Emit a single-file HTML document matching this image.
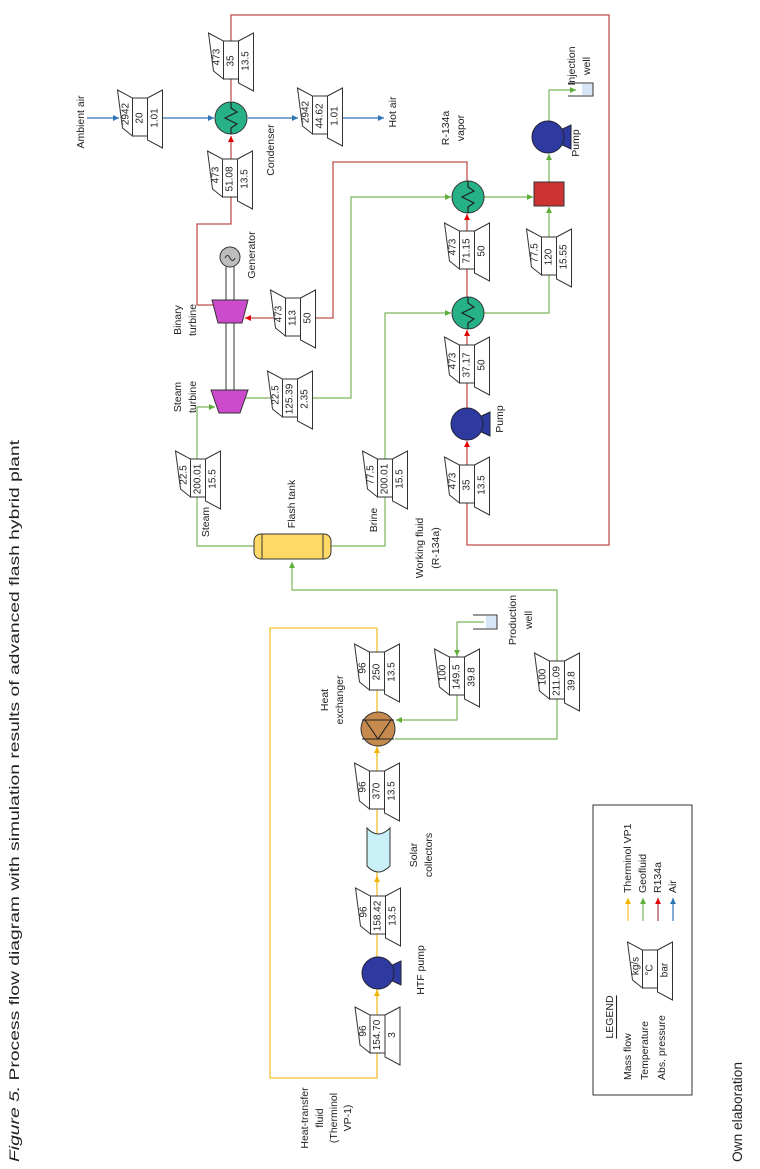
<!DOCTYPE html>
<html><head><meta charset="utf-8"><style>
html,body{margin:0;padding:0;background:#fff;}
svg{display:block;font-family:"Liberation Sans",sans-serif;}
text{dominant-baseline:central;text-anchor:middle;fill:#222;}
.lb{font-size:10.5px;}
.bn{font-size:10px;}
</style></head><body>
<svg width="760" height="1169" viewBox="0 0 760 1169" xmlns="http://www.w3.org/2000/svg">
<defs>
<marker id="ay" markerWidth="6" markerHeight="6" refX="6" refY="3" orient="auto" markerUnits="userSpaceOnUse"><path d="M0,0L6,3L0,6z" fill="#f0b400"/></marker>
<marker id="ag" markerWidth="6" markerHeight="6" refX="6" refY="3" orient="auto" markerUnits="userSpaceOnUse"><path d="M0,0L6,3L0,6z" fill="#5fae3a"/></marker>
<marker id="ar" markerWidth="6" markerHeight="6" refX="6" refY="3" orient="auto" markerUnits="userSpaceOnUse"><path d="M0,0L6,3L0,6z" fill="#e00000"/></marker>
<marker id="ab" markerWidth="6" markerHeight="6" refX="6" refY="3" orient="auto" markerUnits="userSpaceOnUse"><path d="M0,0L6,3L0,6z" fill="#2e75b6"/></marker>
<g id="blk" fill="#fff" stroke="#333" stroke-width="1">
<polygon points="-22.5,-28 -7.5,-20 -7.5,18 -17.5,10"/>
<polygon points="7.5,-20 22.5,-28 22.5,30 7.5,22"/>
<rect x="-7.5" y="-20" width="15" height="38"/>
</g>
<g id="hx"><circle r="16" fill="#26b286" stroke="#333"/><polyline points="0,-16 0,-10 6,-6 -6,0 6,6 0,10 0,16" fill="none" stroke="#222" stroke-width="1.2"/></g>
<g id="pump"><polygon points="8,-5 23,-12 23,12 8,5" fill="#2e3a9f" stroke="#223"/><circle r="16" fill="#2e3a9f" stroke="#223"/></g>
</defs>

<text transform="translate(14,1162) rotate(-90)" style="text-anchor:start;font-size:14px" textLength="722" lengthAdjust="spacingAndGlyphs"><tspan font-style="italic">Figure 5.</tspan> Process flow diagram with simulation results of advanced flash hybrid plant</text>
<text transform="translate(737,1162) rotate(-90)" style="text-anchor:start;font-size:14px" textLength="100" lengthAdjust="spacingAndGlyphs">Own elaboration</text>

<g fill="none" stroke="#f2c12e" stroke-width="1.3">
<polyline points="377,628 270,628 270,1078 377,1078 377,628"/>
</g>
<g stroke="#f2c12e" stroke-width="1.3">
<line x1="377" y1="1000" x2="377" y2="990" marker-end="url(#ay)"/>
<line x1="377" y1="886" x2="377" y2="876" marker-end="url(#ay)"/>
<line x1="377" y1="757" x2="377" y2="747" marker-end="url(#ay)"/>
</g>

<g fill="none" stroke="#7cb45a" stroke-width="1.2">
<polyline points="484,622 457,622 457,720 396,720" marker-end="url(#ag)"/>
<line x1="457" y1="640" x2="457" y2="656" marker-end="url(#ag)"/>
<polyline points="395,739 557,739 557,590 292,590 292,562" marker-end="url(#ag)"/>
<polyline points="254,546 197,546 197,407 215,407" marker-end="url(#ag)"/>
<polyline points="240,398 351,398 351,197 451,197" marker-end="url(#ag)"/>
<polyline points="331,546 385,546 385,313 451,313" marker-end="url(#ag)"/>
<line x1="484" y1="197" x2="533" y2="197" marker-end="url(#ag)"/>
<polyline points="484,313 549,313 549,207" marker-end="url(#ag)"/>
<line x1="549" y1="182" x2="549" y2="154" marker-end="url(#ag)"/>
<polyline points="549,121 549,90 576,90" marker-end="url(#ag)"/>
</g>

<g fill="none" stroke="#c0504d" stroke-width="1.3">
<polyline points="231,101 231,15 609,15 609,545 467,545 467,441" marker-end="url(#ar)"/>
<polyline points="467,408 467,330" marker-end="url(#ar)"/>
<polyline points="467,297 467,214" marker-end="url(#ar)"/>
<polyline points="467,181 467,162 333,162 333,318 245,318" marker-end="url(#ar)"/>
<polyline points="213,305 197,305 197,224 231,224 231,136" marker-end="url(#ar)"/>
</g>

<g fill="none" stroke="#2e75b6" stroke-width="1.2">
<line x1="87" y1="118" x2="119" y2="118" marker-end="url(#ab)"/>
<line x1="162" y1="118" x2="214" y2="118" marker-end="url(#ab)"/>
<line x1="248" y1="118" x2="298" y2="118" marker-end="url(#ab)"/>
<line x1="342" y1="118" x2="384" y2="118" marker-end="url(#ab)"/>
</g>

<use href="#hx" x="231" y="118"/>
<use href="#hx" x="468" y="197"/>
<use href="#hx" x="468" y="313"/>
<use href="#pump" x="378" y="973"/>
<use href="#pump" x="467" y="424"/>
<use href="#pump" x="548" y="137"/>
<g transform="translate(378,729)">
<circle r="17" fill="#c68a4e" stroke="#333"/>
<path d="M-16,-9H16M-16,10H16M-13,-9L0,10L13,-9" fill="none" stroke="#222" stroke-width="1.1"/>
</g>
<path d="M367,828 Q378,840 390,828 V866 Q378,878 367,866 Z" fill="#c8f0f6" stroke="#333"/>
<rect x="254" y="534" width="77" height="25" rx="7" fill="#ffd966" stroke="#333"/>
<path d="M262,534V559M323,534V559" stroke="#333"/>
<rect x="226" y="266" width="8" height="126" fill="#fff" stroke="#333"/>
<circle cx="230" cy="257" r="10" fill="#bdbdbd" stroke="#333"/>
<path d="M225,258 q2.5,-5 5,0 t5,0" fill="none" stroke="#333"/>
<polygon points="212,300 248,300 242,323 218,323" fill="#cc4acc" stroke="#333"/>
<polygon points="211,390 248,390 240,413 219,413" fill="#cc4acc" stroke="#333"/>
<rect x="534" y="182" width="30" height="24" fill="#cc3333" stroke="#333"/>
<rect x="486" y="616" width="11" height="12" fill="#d6e6f7"/>
<path d="M473,615H497V629H473" fill="none" stroke="#333"/>
<rect x="582" y="84" width="11" height="11" fill="#d6e6f7"/>
<path d="M568,83H593V96H568" fill="none" stroke="#333"/>

<g class="bn">
<g transform="translate(377.5,1035)"><use href="#blk"/><text transform="translate(-14,-4) rotate(-90)">96</text><text transform="rotate(-90)">154.70</text><text transform="translate(15,0) rotate(-90)">3</text></g>
<g transform="translate(378,916)"><use href="#blk"/><text transform="translate(-14,-4) rotate(-90)">96</text><text transform="rotate(-90)">158.42</text><text transform="translate(15,0) rotate(-90)">13.5</text></g>
<g transform="translate(377,791)"><use href="#blk"/><text transform="translate(-14,-4) rotate(-90)">96</text><text transform="rotate(-90)">370</text><text transform="translate(15,0) rotate(-90)">13.5</text></g>
<g transform="translate(377,672)"><use href="#blk"/><text transform="translate(-14,-4) rotate(-90)">96</text><text transform="rotate(-90)">250</text><text transform="translate(15,0) rotate(-90)">13.5</text></g>
<g transform="translate(457,677)"><use href="#blk"/><text transform="translate(-14,-4) rotate(-90)">100</text><text transform="rotate(-90)">149.5</text><text transform="translate(15,0) rotate(-90)">39.8</text></g>
<g transform="translate(557,681)"><use href="#blk"/><text transform="translate(-14,-4) rotate(-90)">100</text><text transform="rotate(-90)">211.09</text><text transform="translate(15,0) rotate(-90)">39.8</text></g>
<g transform="translate(140,118)"><use href="#blk"/><text transform="translate(-14,-4) rotate(-90)">2942</text><text transform="rotate(-90)">20</text><text transform="translate(15,0) rotate(-90)">1.01</text></g>
<g transform="translate(231,61)"><use href="#blk"/><text transform="translate(-14,-4) rotate(-90)">473</text><text transform="rotate(-90)">35</text><text transform="translate(15,0) rotate(-90)">13.5</text></g>
<g transform="translate(320,116)"><use href="#blk"/><text transform="translate(-14,-4) rotate(-90)">2942</text><text transform="rotate(-90)">44.62</text><text transform="translate(15,0) rotate(-90)">1.01</text></g>
<g transform="translate(230,179)"><use href="#blk"/><text transform="translate(-14,-4) rotate(-90)">473</text><text transform="rotate(-90)">51.08</text><text transform="translate(15,0) rotate(-90)">13.5</text></g>
<g transform="translate(293,318)"><use href="#blk"/><text transform="translate(-14,-4) rotate(-90)">473</text><text transform="rotate(-90)">113</text><text transform="translate(15,0) rotate(-90)">50</text></g>
<g transform="translate(290,399)"><use href="#blk"/><text transform="translate(-14,-4) rotate(-90)">22.5</text><text transform="rotate(-90)">125.39</text><text transform="translate(15,0) rotate(-90)">2.35</text></g>
<g transform="translate(198,479)"><use href="#blk"/><text transform="translate(-14,-4) rotate(-90)">22.5</text><text transform="rotate(-90)">200.01</text><text transform="translate(15,0) rotate(-90)">15.5</text></g>
<g transform="translate(385,479)"><use href="#blk"/><text transform="translate(-14,-4) rotate(-90)">77.5</text><text transform="rotate(-90)">200.01</text><text transform="translate(15,0) rotate(-90)">15.5</text></g>
<g transform="translate(467,251)"><use href="#blk"/><text transform="translate(-14,-4) rotate(-90)">473</text><text transform="rotate(-90)">71.15</text><text transform="translate(15,0) rotate(-90)">50</text></g>
<g transform="translate(467,365)"><use href="#blk"/><text transform="translate(-14,-4) rotate(-90)">473</text><text transform="rotate(-90)">37.17</text><text transform="translate(15,0) rotate(-90)">50</text></g>
<g transform="translate(549,257)"><use href="#blk"/><text transform="translate(-14,-4) rotate(-90)">77.5</text><text transform="rotate(-90)">120</text><text transform="translate(15,0) rotate(-90)">15.55</text></g>
<g transform="translate(467,485)"><use href="#blk"/><text transform="translate(-14,-4) rotate(-90)">473</text><text transform="rotate(-90)">35</text><text transform="translate(15,0) rotate(-90)">13.5</text></g>
</g>

<g class="lb">
<text transform="translate(81,122) rotate(-90)">Ambient air</text>
<text transform="translate(393,112) rotate(-90)">Hot air</text>
<text transform="translate(271,150) rotate(-90)">Condenser</text>
<text transform="translate(252,255) rotate(-90)">Generator</text>
<text transform="translate(178,320) rotate(-90)">Binary</text>
<text transform="translate(193,320) rotate(-90)">turbine</text>
<text transform="translate(178,397) rotate(-90)">Steam</text>
<text transform="translate(193,397) rotate(-90)">turbine</text>
<text transform="translate(446,128) rotate(-90)">R-134a</text>
<text transform="translate(461,128) rotate(-90)">vapor</text>
<text transform="translate(576,143) rotate(-90)">Pump</text>
<text transform="translate(572,66) rotate(-90)">Injection</text>
<text transform="translate(587,66) rotate(-90)">well</text>
<text transform="translate(500,419) rotate(-90)">Pump</text>
<text transform="translate(206,522) rotate(-90)">Steam</text>
<text transform="translate(374,520) rotate(-90)">Brine</text>
<text transform="translate(292,504) rotate(-90)">Flash tank</text>
<text transform="translate(420,548) rotate(-90)">Working fluid</text>
<text transform="translate(436,548) rotate(-90)">(R-134a)</text>
<text transform="translate(513,620) rotate(-90)">Production</text>
<text transform="translate(529,620) rotate(-90)">well</text>
<text transform="translate(325,700) rotate(-90)">Heat</text>
<text transform="translate(340,700) rotate(-90)">exchanger</text>
<text transform="translate(414,855) rotate(-90)">Solar</text>
<text transform="translate(429,855) rotate(-90)">collectors</text>
<text transform="translate(421,970) rotate(-90)">HTF pump</text>
<text transform="translate(305,1118) rotate(-90)">Heat-transfer</text>
<text transform="translate(320,1118) rotate(-90)">fluid</text>
<text transform="translate(334,1118) rotate(-90)">(Therminol</text>
<text transform="translate(348,1118) rotate(-90)">VP-1)</text>
</g>

<rect x="593" y="805" width="99" height="290" fill="none" stroke="#333"/>
<g class="lb">
<text transform="translate(610,1017) rotate(-90)" text-decoration="underline">LEGEND</text>
<text transform="translate(628,1080) rotate(-90)" style="text-anchor:start">Mass flow</text>
<text transform="translate(645,1080) rotate(-90)" style="text-anchor:start">Temperature</text>
<text transform="translate(662,1080) rotate(-90)" style="text-anchor:start">Abs. pressure</text>
<text transform="translate(628,893) rotate(-90)" style="text-anchor:start">Therminol VP1</text>
<text transform="translate(643,893) rotate(-90)" style="text-anchor:start">Geofluid</text>
<text transform="translate(658,893) rotate(-90)" style="text-anchor:start">R134a</text>
<text transform="translate(673,893) rotate(-90)" style="text-anchor:start">Air</text>
</g>
<line x1="628" y1="921" x2="628" y2="898" stroke="#f2c12e" stroke-width="1.2" marker-end="url(#ay)"/>
<line x1="643" y1="921" x2="643" y2="898" stroke="#7cb45a" stroke-width="1.2" marker-end="url(#ag)"/>
<line x1="658" y1="921" x2="658" y2="898" stroke="#a04040" stroke-width="1.2" marker-end="url(#ar)"/>
<line x1="673" y1="921" x2="673" y2="898" stroke="#2e75b6" stroke-width="1.2" marker-end="url(#ab)"/>
<g class="bn" transform="translate(650,970)"><use href="#blk"/><text transform="translate(-14,-4) rotate(-90)">kg/s</text><text transform="rotate(-90)">°C</text><text transform="translate(15,0) rotate(-90)">bar</text></g>
</svg>
</body></html>
